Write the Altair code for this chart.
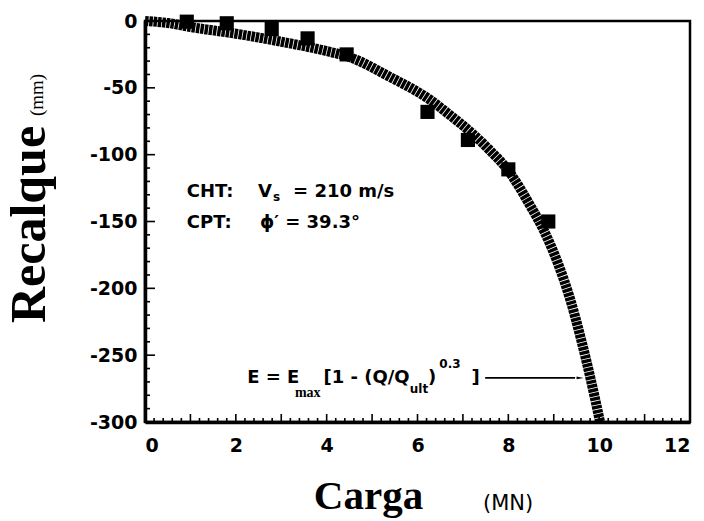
import altair as alt
import pandas as pd

# ---- data ----
curve_q = [0.0, 0.5, 1.0, 2.0, 3.0, 4.0, 4.5, 5.4, 6.28, 6.7, 7.2, 7.6, 8.0, 8.48, 8.8, 9.1, 9.36, 9.6, 9.8, 10.02]
curve_e = [0.0, -1.5, -4.5, -9.5, -15.5, -22.5, -27, -42, -59, -70, -84, -97, -112, -138, -158, -182, -208, -238, -266, -300]

marker_q = [0.92, 1.8, 2.79, 3.58, 4.44, 6.22, 7.11, 8.0, 8.88]
marker_e = [-0.5, -1.7, -6, -13, -25, -68, -89, -111, -150]

x_tick_labels = [0, 2, 4, 6, 8, 10, 12]
y_tick_labels = [0, -50, -100, -150, -200, -250, -300]
x_major_ticks = [1, 2, 3, 4, 5, 6, 7, 8, 9, 10, 11]
x_minor_ticks = [round(i * 0.2, 1) for i in range(1, 60) if i % 5 != 0]
y_major_ticks = [-50, -100, -150, -200, -250]
y_minor_ticks = [-v for v in range(10, 300, 10) if v % 50 != 0]

# annotation pieces (text, position in data units)
main_text = ["CHT:", "V", "= 210 m/s", "CPT:", "\u03d5\u2032 = 39.3\u00b0", "E = E", "[1 - (Q/Q", ")", "]"]
main_q = [0.92, 2.49, 3.26, 0.92, 2.53, 2.25, 3.93, 6.23, 7.19]
main_e = [-131.7, -131.7, -131.7, -154.9, -154.9, -270.8, -270.8, -270.8, -270.8]

small_text = ["s", "ult", "0.3"]
small_q = [2.82, 5.83, 6.48]
small_e = [-134.5, -278, -259.6]

serif_text = ["max"]
serif_q = [3.30]
serif_e = [-281]

arrow_q = [7.49, 9.47]
arrow_e = [-267, -267]
arrowhead_q = [9.58]
arrowhead_e = [-267]

# ---- tables ----
curve_df = pd.DataFrame({"q": curve_q, "e": curve_e})
marker_df = pd.DataFrame({"q": marker_q, "e": marker_e})
main_df = pd.DataFrame({"q": main_q, "e": main_e, "t": main_text})
small_df = pd.DataFrame({"q": small_q, "e": small_e, "t": small_text})
serif_df = pd.DataFrame({"q": serif_q, "e": serif_e, "t": serif_text})
arrow_df = pd.DataFrame({"q": [arrow_q[0]], "q2": [arrow_q[1]], "e": [arrow_e[0]]})
head_df = pd.DataFrame({"q": arrowhead_q, "e": arrowhead_e})

xs = alt.Scale(domain=[0, 12], nice=False, zero=False)
ys = alt.Scale(domain=[-300, 0], nice=False, zero=False)

LABEL_FONT = "DejaVu Sans"

x_axis = alt.Axis(
    values=x_tick_labels, ticks=False, grid=False, tickSize=0,
    labelExpr="'' + datum.value",
    labelFont=LABEL_FONT, labelFontSize=19, labelFontWeight="bold", labelColor="black",
    labelPadding=14, domainColor="black", domainWidth=3.5,
    title="Carga", titleFont="Liberation Serif", titleFontSize=41, titleFontWeight="bold",
    titleColor="black", titleX=223, titleY=86, titleAlign="center", titleBaseline="alphabetic",
)
y_axis = alt.Axis(
    values=y_tick_labels, ticks=False, grid=False, tickSize=0,
    labelExpr="'' + datum.value",
    labelFont=LABEL_FONT, labelFontSize=19, labelFontWeight="bold", labelColor="black",
    labelPadding=8, domainColor="black", domainWidth=3.5,
    title="Recalque", titleFont="Liberation Serif", titleFontSize=50, titleFontWeight="bold",
    titleColor="black", titleX=-101, titleY=203, titleAngle=270, titleAlign="center",
    titleBaseline="alphabetic",
)

curve = alt.Chart(curve_df).mark_line(
    color="black", strokeWidth=10, strokeDash=[3.5, 0.8], strokeCap="butt", interpolate="monotone"
).encode(
    x=alt.X("q:Q", scale=xs, axis=x_axis),
    y=alt.Y("e:Q", scale=ys, axis=y_axis),
)

points = alt.Chart(marker_df).mark_point(
    shape="square", filled=True, size=200, color="black", opacity=1
).encode(x="q:Q", y="e:Q")

def xticks(vals, length):
    return alt.Chart(pd.DataFrame({"q": vals})).mark_tick(
        orient="vertical", size=length, thickness=1.6, yOffset=-length / 2, color="black", opacity=1
    ).encode(x="q:Q", y=alt.datum(-300))

def yticks(vals, length):
    return alt.Chart(pd.DataFrame({"e": vals})).mark_tick(
        orient="horizontal", size=length, thickness=1.6, xOffset=length / 2, color="black", opacity=1
    ).encode(y="e:Q", x=alt.datum(0))

main_txt = alt.Chart(main_df).mark_text(
    font=LABEL_FONT, fontSize=18, fontWeight="bold", align="left", baseline="alphabetic", color="black"
).encode(x="q:Q", y="e:Q", text="t:N")

small_txt = alt.Chart(small_df).mark_text(
    font=LABEL_FONT, fontSize=12, fontWeight="bold", align="left", baseline="alphabetic", color="black"
).encode(x="q:Q", y="e:Q", text="t:N")

serif_txt = alt.Chart(serif_df).mark_text(
    font="Liberation Serif", fontSize=14, fontWeight="bold", align="left", baseline="alphabetic", color="black"
).encode(x="q:Q", y="e:Q", text="t:N")

arrow = alt.Chart(arrow_df).mark_rule(color="black", strokeWidth=1.8).encode(
    x="q:Q", x2="q2:Q", y="e:Q"
)
head = alt.Chart(head_df).mark_point(
    shape="M-1,-0.4L1,0L-1,0.4Z", filled=True, size=49, color="black", opacity=1
).encode(x="q:Q", y="e:Q")

unit_y = alt.Chart(pd.DataFrame({"t": ["(mm)"]})).mark_text(
    font="Liberation Serif", fontSize=19, angle=270, align="center", baseline="alphabetic", color="black"
).encode(x=alt.value(-102), y=alt.value(74), text="t:N")

unit_x = alt.Chart(pd.DataFrame({"t": ["(MN)"]})).mark_text(
    font=LABEL_FONT, fontSize=21, align="left", baseline="alphabetic", color="black"
).encode(x=alt.value(338), y=alt.value(489), text="t:N")

chart = alt.layer(
    curve, points,
    xticks(x_major_ticks, 8), xticks(x_minor_ticks, 4),
    yticks(y_major_ticks, 10), yticks(y_minor_ticks, 5),
    main_txt, small_txt, serif_txt, arrow, head, unit_y, unit_x,
).properties(
    width=545, height=401,
    autosize=alt.AutoSizeParams(type="none"),
    padding={"left": 145, "top": 21, "right": 14, "bottom": 99},
    background="white",
).configure_view(stroke="black", strokeWidth=2.5)

chart.save("out.html", embed_options={"renderer": "svg", "actions": False})
